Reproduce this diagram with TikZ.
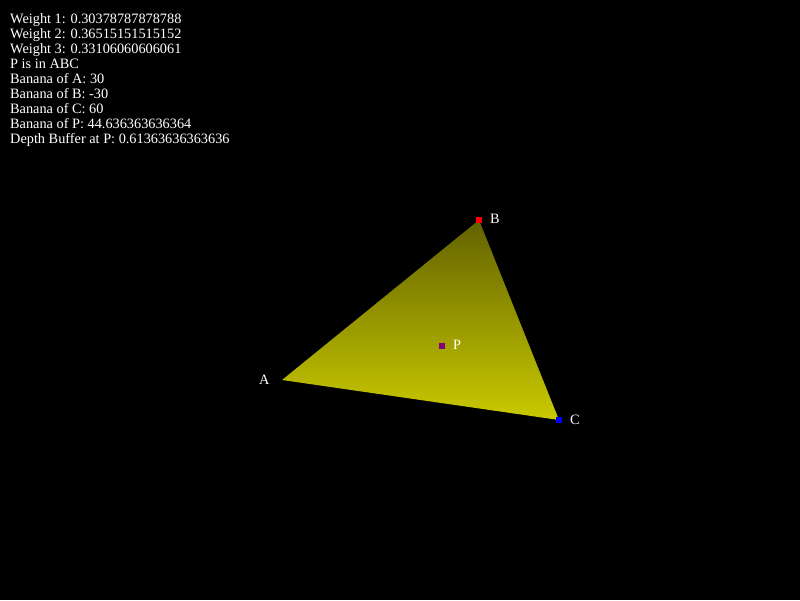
\documentclass[tikz,border=0pt]{standalone}
\usepackage{fontspec}
\setmainfont{Liberation Serif}
\begin{document}
\begin{tikzpicture}[x=1pt,y=-1pt,
  lbl/.style={text=white,font=\fontsize{14.3}{15}\selectfont,inner sep=0pt},
  vmark/.style={minimum size=6pt,inner sep=0pt,draw=none}]
\definecolor{ytop}{RGB}{98,98,0}
\definecolor{ybot}{RGB}{202,202,0}
\definecolor{pmark}{RGB}{128,0,128}
\fill[black] (0,0) rectangle (800,600);
\useasboundingbox (0,0) rectangle (800,600);
\coordinate (A) at (282,380);
\coordinate (B) at (479,220);
\coordinate (C) at (559,420);
\shade[top color=ytop,bottom color=ybot] (A) -- (B) -- (C) -- cycle;
\node[vmark,fill=red] (mB) at (B) {};
\node[vmark,fill=blue] (mC) at (C) {};
\node[vmark,fill=pmark] (mP) at (442,346) {};
\node[lbl,anchor=west] (lA) at (259,380) {A};
\node[lbl,anchor=west] (lB) at (490,219) {B};
\node[lbl,anchor=west] (lC) at (570,420) {C};
\node[lbl,anchor=west] (lP) at (453,345) {P};
\node[lbl,anchor=north west,align=left] (info) at (10,13) {Weight 1: 0.30378787878788\\
Weight 2: 0.36515151515152\\
Weight 3: 0.33106060606061\\
P is in ABC\\
Banana of A: 30\\
Banana of B: -30\\
Banana of C: 60\\
Banana of P: 44.636363636364\\
Depth Buffer at P: 0.61363636363636};
\end{tikzpicture}
\end{document}
